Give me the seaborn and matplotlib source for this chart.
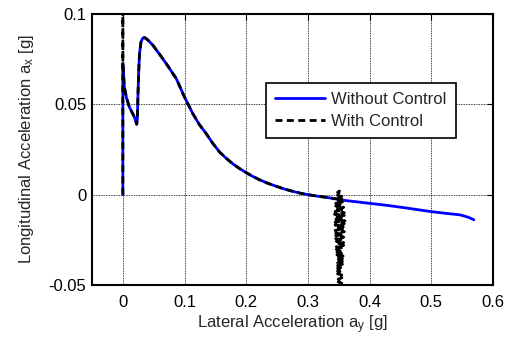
import matplotlib
matplotlib.use("Agg")
import matplotlib.pyplot as plt
import seaborn as sns
import pandas as pd

# Without Control (blue solid)
wo_x = [0.000, 0.000, 0.0024, 0.0060, 0.0106, 0.0150, 0.0187, 0.0225, 0.0235, 0.0245,
        0.0257, 0.0270, 0.0295, 0.0320, 0.0350, 0.0400, 0.0485, 0.0600, 0.0702, 0.0865,
        0.1000, 0.1135, 0.1240, 0.1353, 0.1460, 0.1570, 0.1680, 0.1785, 0.1890, 0.1990,
        0.2100, 0.2220, 0.2350, 0.2490, 0.2620, 0.2760, 0.2880, 0.3000, 0.3150, 0.3300,
        0.3470, 0.3600, 0.3800, 0.4000, 0.4300, 0.4600, 0.5000, 0.5200, 0.5470, 0.5600,
        0.5690]
wo_y = [0.0000, 0.0726, 0.0596, 0.0535, 0.0485, 0.0455, 0.0430, 0.0390, 0.0420, 0.0550,
        0.0680, 0.0780, 0.0846, 0.0865, 0.0870, 0.0858, 0.0828, 0.0775, 0.0726, 0.0643,
        0.0540, 0.0448, 0.0388, 0.0337, 0.0283, 0.0235, 0.0200, 0.0170, 0.0145, 0.0124,
        0.0102, 0.0082, 0.0063, 0.0046, 0.0031, 0.0018, 0.0008, 0.0000, -0.0008, -0.0015,
        -0.0024, -0.0032, -0.0040, -0.0048, -0.0060, -0.0074, -0.0094, -0.0102, -0.0112, -0.0125,
        -0.0139]

# With Control (black dashed): same path until ~0.35 g, then oscillates down
wc_x = [0.000, 0.000, 0.000, 0.0024, 0.0060, 0.0106, 0.0150, 0.0187, 0.0225, 0.0235,
        0.0245, 0.0257, 0.0270, 0.0295, 0.0320, 0.0350, 0.0400, 0.0485, 0.0600, 0.0702,
        0.0865, 0.1000, 0.1135, 0.1240, 0.1353, 0.1460, 0.1570, 0.1680, 0.1785, 0.1890,
        0.1990, 0.2100, 0.2220, 0.2350, 0.2490, 0.2620, 0.2760, 0.2880, 0.3000, 0.3150,
        0.3300, 0.3470,
        0.351, 0.348, 0.354, 0.348, 0.355, 0.347, 0.355, 0.346, 0.356, 0.345,
        0.357, 0.345, 0.358, 0.344, 0.358, 0.344, 0.359, 0.343, 0.359, 0.343,
        0.359, 0.343, 0.360, 0.344, 0.359, 0.344, 0.360, 0.344, 0.359, 0.344,
        0.359, 0.345, 0.359, 0.345, 0.358, 0.345, 0.358, 0.346, 0.358, 0.346,
        0.358, 0.346, 0.357, 0.346, 0.357, 0.347, 0.357, 0.347, 0.357, 0.347,
        0.356, 0.347, 0.356, 0.348, 0.356, 0.348, 0.356, 0.348, 0.356, 0.348,
        0.355, 0.348, 0.355, 0.349, 0.355, 0.349, 0.355, 0.349, 0.355, 0.349,
        0.352]
wc_y = [0.0000, 0.1050, 0.0726, 0.0596, 0.0535, 0.0485, 0.0455, 0.0430, 0.0390, 0.0420,
        0.0550, 0.0680, 0.0780, 0.0846, 0.0865, 0.0870, 0.0858, 0.0828, 0.0775, 0.0726,
        0.0643, 0.0540, 0.0448, 0.0388, 0.0337, 0.0283, 0.0235, 0.0200, 0.0170, 0.0145,
        0.0124, 0.0102, 0.0082, 0.0063, 0.0046, 0.0031, 0.0018, 0.0008, 0.0000, -0.0008,
        -0.0015, -0.0024,
        0.0020, 0.0013, 0.0005, -0.0003, -0.0010, -0.0018, -0.0025, -0.0033, -0.0040, -0.0048,
        -0.0055, -0.0063, -0.0070, -0.0078, -0.0085, -0.0093, -0.0100, -0.0108, -0.0115, -0.0123,
        -0.0130, -0.0138, -0.0145, -0.0153, -0.0160, -0.0168, -0.0175, -0.0183, -0.0190, -0.0198,
        -0.0205, -0.0213, -0.0220, -0.0228, -0.0235, -0.0243, -0.0250, -0.0258, -0.0265, -0.0273,
        -0.0280, -0.0288, -0.0295, -0.0303, -0.0310, -0.0318, -0.0325, -0.0333, -0.0340, -0.0348,
        -0.0355, -0.0363, -0.0370, -0.0378, -0.0385, -0.0393, -0.0400, -0.0408, -0.0415, -0.0423,
        -0.0430, -0.0438, -0.0445, -0.0453, -0.0460, -0.0468, -0.0475, -0.0483, -0.0490, -0.0498,
        -0.0505]

x_ticks = [0, 0.1, 0.2, 0.3, 0.4, 0.5, 0.6]
x_labels = ["0", "0.1", "0.2", "0.3", "0.4", "0.5", "0.6"]
y_ticks = [-0.05, 0, 0.05, 0.1]
y_labels = ["-0.05", "0", "0.05", "0.1"]

sns.set_style("white")
plt.rcParams['font.family'] = ['Liberation Sans', 'DejaVu Sans']
plt.rcParams['mathtext.fontset'] = 'custom'
plt.rcParams['mathtext.rm'] = 'Liberation Sans'
plt.rcParams['mathtext.it'] = 'Liberation Sans'

FS = 12

fig = plt.figure(figsize=(5.08, 3.38), dpi=100)
ax = fig.add_axes([92/508, 1-285/338, 401/508, 271/338])

df_wo = pd.DataFrame({"x": wo_x, "y": wo_y})
df_wc = pd.DataFrame({"x": wc_x, "y": wc_y})

sns.lineplot(data=df_wo, x="x", y="y", sort=False, estimator=None, ax=ax,
             color="#0000ff", linewidth=2, label="Without Control")
sns.lineplot(data=df_wc, x="x", y="y", sort=False, estimator=None, ax=ax,
             color="black", linewidth=2, label="With Control")
ax.lines[1].set_dashes((2.5, 1.6))

ax.set_xlim(-0.05, 0.6)
ax.set_ylim(-0.05, 0.1)
ax.set_xticks(x_ticks)
ax.set_xticklabels(x_labels)
ax.set_yticks(y_ticks)
ax.set_yticklabels(y_labels)
ax.grid(True, color="black", linestyle=(0, (1, 1)), linewidth=0.6)
ax.set_axisbelow(True)
ax.tick_params(direction="in", length=4, width=0.8, top=True, right=True,
               labelsize=FS, colors="black")
ax.tick_params(axis="x", pad=7)
ax.tick_params(axis="y", pad=4)
for sp in ax.spines.values():
    sp.set_visible(True)
    sp.set_color("black")
    sp.set_linewidth(1.5)

ax.set_xlabel(r"Lateral Acceleration a$_\mathregular{y}$ [g]", fontsize=FS, labelpad=3)
ax.set_ylabel(r"Longitudinal Acceleration a$_\mathregular{x}$ [g]", fontsize=FS, labelpad=9)

leg = ax.legend(loc="upper left", bbox_to_anchor=(0.434, 0.7465), borderaxespad=0,
                fontsize=FS, handlelength=3.0, handletextpad=0.35, borderpad=0.55,
                labelspacing=0.4, fancybox=False, framealpha=1, edgecolor="black")
leg.get_frame().set_linewidth(1.2)
leg.get_lines()[1].set_dashes((2.5, 1.6))

fig.savefig("out.png", dpi=100)
